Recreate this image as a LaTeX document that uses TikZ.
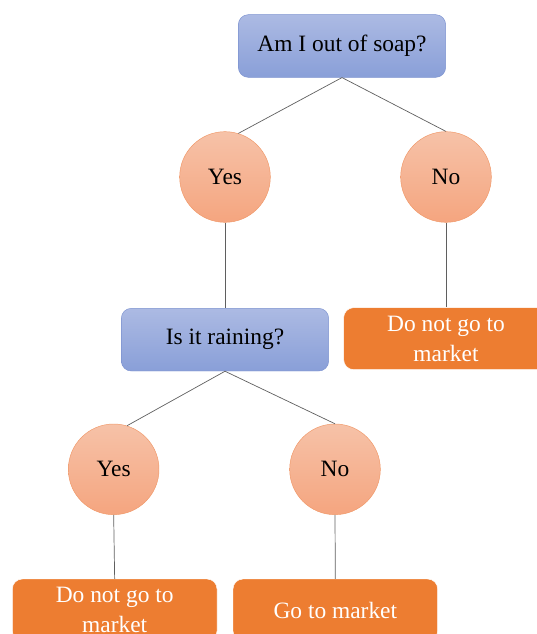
\documentclass[tikz,border=0pt]{standalone}
\usepackage{fontspec}
\setmainfont{Liberation Serif}
\newfontfamily\diagfont{Liberation Serif}
\usepackage{tikz}
\usetikzlibrary{positioning}
\definecolor{qtop}{RGB}{172,186,227}
\definecolor{qbot}{RGB}{137,159,216}
\definecolor{qline}{RGB}{124,146,208}
\definecolor{ctop}{RGB}{246,194,168}
\definecolor{cbot}{RGB}{245,165,127}
\definecolor{cline}{RGB}{240,152,104}
\definecolor{outorange}{RGB}{237,125,49}
\definecolor{linegray}{RGB}{95,95,95}

\begin{document}
\begin{tikzpicture}[
  qbox/.style={draw=qline, rounded corners=0.3cm, top color=qtop, bottom color=qbot, minimum width=6.22cm, minimum height=1.88cm, inner sep=0pt, font=\diagfont\fontsize{20}{25.5}\selectfont},
  choice/.style={circle, draw=cline, top color=ctop, bottom color=cbot, minimum size=2.72cm, inner sep=0pt, font=\diagfont\fontsize{20}{25.5}\selectfont},
  result/.style={draw=white, fill=outorange, rounded corners=0.3cm, minimum width=6.14cm, minimum height=1.86cm, inner sep=0pt, align=center, text=white, font=\diagfont\fontsize{20}{25.5}\selectfont},
  branch/.style={draw=linegray, line width=0.6pt}
]
  \useasboundingbox (0,0) rectangle (16.11,-19.02);
  \clip (0,0) rectangle (16.11,-19.02);

  \node[qbox] (Q1) at (10.26,-1.38) {Am I out of soap?};
  \node[choice] (Y1) at (6.75,-5.31) {Yes};
  \node[choice] (N1) at (13.38,-5.31) {No};
  \node[qbox] (Q2) at (6.75,-10.19) {Is it raining?};
  \node[result] (D1) at (13.38,-10.16) {Do not go to\\market};
  \node[choice] (Y2) at (3.41,-14.08) {Yes};
  \node[choice] (N2) at (10.05,-14.08) {No};
  \node[result] (D2) at (3.44,-18.3) {Do not go to\\market};
  \node[result] (G) at (10.06,-18.3) {Go to market};

  \draw[branch] (Q1.south) -- (Y1.73);
  \draw[branch] (Q1.south) -- (N1.north);
  \draw[branch] (Y1.south) -- (Q2.north);
  \draw[branch] (N1.south) -- (D1.north);
  \draw[branch] (Q2.south) -- (Y2.73);
  \draw[branch] (Q2.south) -- (N2.north);
  \draw[branch] (Y2.south) -- (D2.north);
  \draw[branch] (N2.south) -- (G.north);
\end{tikzpicture}
\end{document}
